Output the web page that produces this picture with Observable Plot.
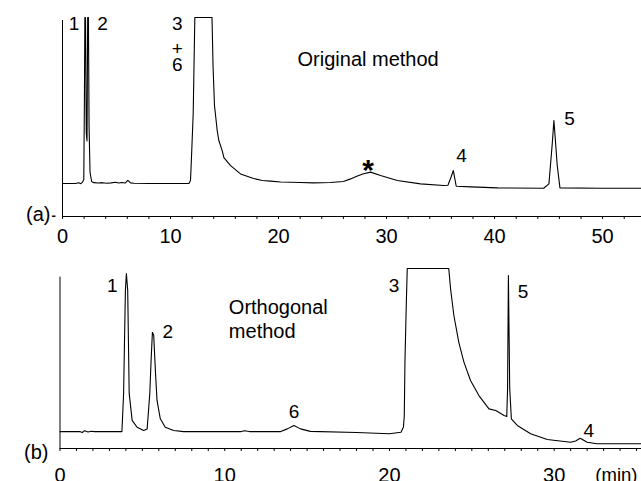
<!DOCTYPE html>
<html>
<head>
<meta charset="utf-8">
<script src="https://cdn.jsdelivr.net/npm/d3@7"></script>
<script src="https://cdn.jsdelivr.net/npm/@observablehq/plot@0.6"></script>
<style>
  html, body { margin: 0; padding: 0; background: #fff; }
  #chart { position: relative; width: 641px; height: 481px; background: #fff; overflow: hidden; }
  #chart svg { position: absolute; left: 0; }
</style>
</head>
<body>
<div id="chart"></div>
<script>
// ---------- (a) Original method ----------
const topTime = [0, 1.2, 1.5, 1.7, 1.85, 1.97, 2.03, 2.07, 2.13, 2.2, 2.27, 2.33, 2.4, 2.46, 2.55, 2.7, 2.9, 3.3, 3.7, 4.1, 4.5, 4.9, 5.2, 5.5, 5.8, 6.05, 6.3, 6.6, 8, 11.7,
  11.85, 11.94, 12.1, 12.25, 13.84, 13.94, 14.07, 14.32, 14.47, 14.79, 14.94, 15.56, 16.48, 17.69, 18.5, 19.26, 20.19, 22.04, 23.24, 24.8,
  26.0, 26.67, 27.3, 27.87, 28.52, 29.44, 31.0, 33.15, 35.28, 35.68, 35.99, 36.18, 36.45, 37.78, 40.28, 44.54,
  45.03, 45.34, 45.49, 45.65, 45.8, 46.05, 49.8, 53.6];
const topSignal = [16.6, 16.6, 17.0, 16.5, 17.3, 18.5, 60, 100, 100, 42, 38, 100, 100, 45, 22, 17.6, 17.0, 16.8, 17.0, 16.7, 16.9, 17.2, 16.8, 17.1, 16.8, 18.2, 16.9, 16.7, 16.6, 16.6,
  18.1, 29.6, 51.8, 100, 100, 74.9, 55.8, 43.2, 38.2, 33.0, 29.6, 25.6, 21.4, 19.1, 18.1, 17.8, 17.3, 17.1, 16.9, 17.1,
  17.6, 18.9, 20.3, 21.5, 22.3, 20.6, 18.1, 16.4, 15.6, 15.7, 20.1, 23.1, 15.2, 14.9, 14.4, 14.2,
  16.4, 36.7, 48.2, 36.7, 25.6, 14.4, 14.2, 14.2];
const topMajorTicks = [0, 10, 20, 30, 40, 50];
const topMinorTicks = d3.range(0, 54, 2);
const topLabelText = ["1", "2", "3", "+", "6", "4", "5"];
const topLabelTime = [1.06, 3.7, 10.62, 10.62, 10.62, 36.94, 46.94];
const topLabelSignal = [96.7, 96.7, 96.7, 84.4, 76.1, 30.5, 49.0];
const starTime = [28.3];
const starSignal = [23.0];
const topTitle = "Original method";

// ---------- (b) Orthogonal method ----------
const botTime = [0, 1.2, 1.35, 1.5, 1.7, 1.9, 2.1, 3.76, 3.86, 3.97, 4.03, 4.11, 4.2, 4.38, 4.68, 5.08, 5.29,
  5.45, 5.53, 5.61, 5.69, 5.79, 5.89, 6.09, 6.39, 6.9, 7.5, 11.0, 11.2, 11.5, 13.4, 13.8, 14.2, 14.6, 15.2, 18, 20.0,
  20.7, 20.85, 20.9, 20.94, 21.02, 21.08, 23.6, 23.71, 23.91, 24.21, 24.52, 24.92, 25.43, 26.04, 26.45, 26.96, 27.12,
  27.17, 27.22, 27.3, 27.4, 27.76, 28.57, 29.58, 31.0, 31.3, 31.58, 32.0, 32.6, 35.3];
const botSignal = [9.4, 9.4, 8.9, 9.9, 9.2, 9.6, 9.4, 9.4, 30.4, 87.8, 97.2, 87.8, 30.6, 15.6, 11.8, 10.0, 10.9,
  30.4, 48.9, 64.6, 62.8, 43.3, 26.7, 16.5, 11.8, 10.0, 9.4, 9.4, 9.9, 9.4, 9.4, 10.9, 12.8, 10.9, 9.5, 8.9, 8.2,
  9.0, 12, 18.3, 47.9, 79.4, 100, 100, 88.7, 73.9, 59, 48, 37.8, 29.4, 22, 21.1, 18.3, 17.8,
  33.3, 96.1, 33.3, 16.5, 12.8, 8.2, 5.0, 3.5, 4.2, 5.7, 3.5, 2.6, 2.6];
const botMajorTicks = [0, 10, 20, 30];
const botMinorTicks = d3.range(0, 36, 1);
const botLabelText = ["1", "2", "6", "3", "5", "4"];
const botLabelTime = [3.17, 6.54, 14.2, 20.27, 28.11, 32.1];
const botLabelSignal = [90.1, 64.6, 20.2, 90.6, 86.8, 10.0];
const botTitle = "Orthogonal\nmethod";
const unitLabel = "(min)";

const FONT = "'Liberation Sans', Arial, Helvetica, sans-serif";
const topData = topTime.map((t, i) => ({t, v: topSignal[i]}));
const botData = botTime.map((t, i) => ({t, v: botSignal[i]}));
const idx = (a) => a.map((_, i) => i);

const topPlot = Plot.plot({
  width: 641, height: 246,
  marginLeft: 62, marginRight: 0, marginTop: 17, marginBottom: 30,
  style: {fontFamily: FONT, fontSize: "20px", color: "black", background: "white", overflow: "visible"},
  x: {domain: [0, 53.6]},
  y: {domain: [0, 100], axis: null},
  marks: [
    Plot.ruleY([0], {stroke: "black", strokeWidth: 1}),
    Plot.ruleX([0], {y1: 0, y2: 98.5, stroke: "black", strokeWidth: 1}),
    Plot.axisX(topMinorTicks, {tickSize: 3, tickFormat: () => "", label: null, stroke: "black"}),
    Plot.axisX(topMajorTicks, {tickSize: 0, tickPadding: 12, label: null, fontSize: 20, fill: "black"}),
    Plot.line(topData, {x: "t", y: "v", stroke: "black", strokeWidth: 1.1}),
    Plot.text(idx(topLabelText), {x: i => topLabelTime[i], y: i => topLabelSignal[i], text: i => topLabelText[i], fontSize: 19, fill: "black"}),
    Plot.text(starTime, {x: d => d, y: (d, i) => starSignal[i], text: () => "*", fontSize: 30, fontWeight: "bold", fill: "black"}),
    Plot.text([topTitle], {x: () => 21.76, y: () => 78.9, text: d => d, textAnchor: "start", fontSize: 20, fill: "black"}),
    Plot.text(["(a)"], {frameAnchor: "bottom-left", lineAnchor: "middle", dx: -36.5, dy: -2, fontSize: 20, fill: "black"}),
    Plot.text(["-"], {frameAnchor: "bottom-left", lineAnchor: "middle", dx: -11, dy: -1, fontSize: 13, fontWeight: "bold", fill: "black"})
  ]
});
topPlot.style.top = "0px";

const botPlot = Plot.plot({
  width: 641, height: 235,
  marginLeft: 59.5, marginRight: 0, marginTop: 22, marginBottom: 33,
  style: {fontFamily: FONT, fontSize: "20px", color: "black", background: "white", overflow: "visible"},
  x: {domain: [0, 35.3]},
  y: {domain: [0, 100], axis: null},
  marks: [
    Plot.ruleY([0], {stroke: "black", strokeWidth: 1}),
    Plot.ruleX([0], {y1: 0, y2: 95.2, stroke: "black", strokeWidth: 1}),
    Plot.axisX(botMinorTicks, {tickSize: 3, tickFormat: () => "", label: null, stroke: "black"}),
    Plot.axisX(botMajorTicks, {tickSize: 0, tickPadding: 19, label: null, fontSize: 20, fill: "black"}),
    Plot.line(botData, {x: "t", y: "v", stroke: "black", strokeWidth: 1.1}),
    Plot.text(idx(botLabelText), {x: i => botLabelTime[i], y: i => botLabelSignal[i], text: i => botLabelText[i], fontSize: 19, fill: "black"}),
    Plot.text([botTitle], {x: () => 10.25, y: () => 72.2, text: d => d, textAnchor: "start", lineHeight: 1.2, fontSize: 20, fill: "black"}),
    Plot.text(["(b)"], {frameAnchor: "bottom-left", lineAnchor: "middle", dx: -36, dy: 4, fontSize: 20, fill: "black"}),
    Plot.text([unitLabel], {frameAnchor: "bottom-right", lineAnchor: "middle", textAnchor: "end", dx: -4, dy: 27, fontSize: 18.5, fill: "black"})
  ]
});
botPlot.style.top = "246px";

const chart = document.getElementById("chart");
chart.appendChild(topPlot);
chart.appendChild(botPlot);
</script>
</body>
</html>
